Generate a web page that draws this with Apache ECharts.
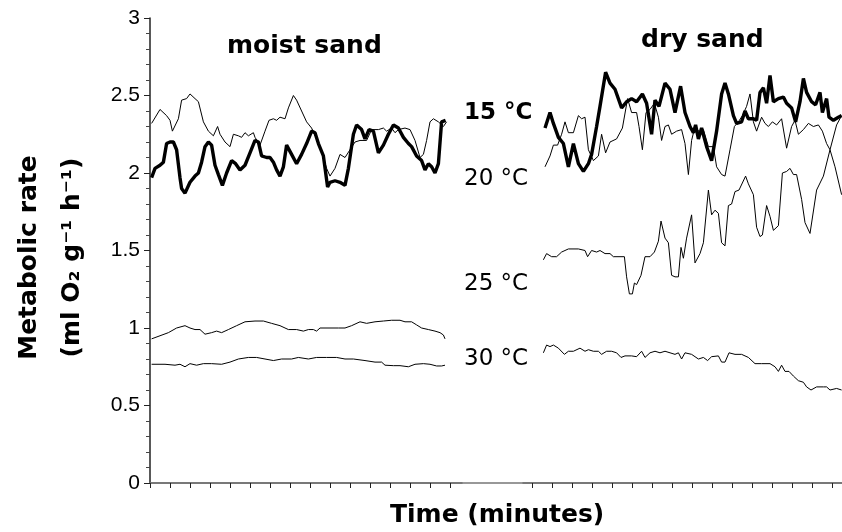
<!DOCTYPE html>
<html>
<head>
<meta charset="utf-8">
<script src="https://cdn.jsdelivr.net/npm/echarts@6/dist/echarts.min.js"></script>
<style>
  html, body { margin: 0; padding: 0; background: #fff; }
  #chart { width: 842px; height: 532px; }
</style>
</head>
<body>
<div id="chart"></div>
<script>
// time in tick units (one tick = one unit), metabolic rate in ml O2 g-1 h-1
const moist15 = [[0.08,1.97],[0.25,2.03],[0.5,2.05],[0.67,2.07],[0.83,2.19],[1.0,2.2],[1.17,2.2],[1.33,2.15],[1.5,1.97],[1.58,1.9],[1.75,1.87],[1.83,1.86],[2.0,1.94],[2.25,1.98],[2.42,2.0],[2.58,2.07],[2.75,2.17],[2.92,2.2],[3.08,2.18],[3.25,2.05],[3.42,1.99],[3.62,1.92],[3.83,2.0],[4.08,2.08],[4.28,2.06],[4.5,2.02],[4.75,2.05],[5.0,2.13],[5.25,2.21],[5.42,2.2],[5.58,2.11],[5.83,2.1],[6.0,2.1],[6.17,2.07],[6.33,2.02],[6.5,1.98],[6.67,2.04],[6.83,2.18],[7.08,2.12],[7.33,2.06],[7.58,2.12],[7.83,2.19],[8.08,2.27],[8.25,2.26],[8.42,2.19],[8.67,2.11],[8.88,1.91],[9.0,1.94],[9.25,1.95],[9.5,1.94],[9.75,1.92],[9.92,2.03],[10.17,2.25],[10.33,2.31],[10.58,2.28],[10.75,2.22],[10.95,2.28],[11.17,2.27],[11.42,2.13],[11.67,2.18],[11.92,2.25],[12.17,2.31],[12.42,2.29],[12.67,2.23],[12.92,2.19],[13.08,2.17],[13.33,2.11],[13.58,2.08],[13.75,2.02],[13.92,2.06],[14.08,2.04],[14.25,2.0],[14.42,2.06],[14.58,2.33],[14.78,2.34]];
const moist20 = [[0.08,2.32],[0.5,2.41],[0.83,2.37],[1.0,2.34],[1.12,2.27],[1.42,2.35],[1.58,2.47],[1.83,2.48],[2.0,2.51],[2.25,2.48],[2.42,2.46],[2.67,2.33],[2.92,2.27],[3.17,2.24],[3.38,2.3],[3.5,2.25],[3.75,2.2],[4.0,2.17],[4.17,2.25],[4.42,2.24],[4.58,2.23],[4.75,2.26],[4.92,2.24],[5.17,2.26],[5.25,2.23],[5.5,2.18],[5.75,2.27],[5.95,2.34],[6.17,2.35],[6.33,2.34],[6.5,2.36],[6.75,2.35],[6.92,2.42],[7.17,2.5],[7.33,2.47],[7.58,2.4],[7.83,2.33],[8.08,2.29],[8.33,2.22],[8.58,2.14],[8.83,2.03],[9.0,1.98],[9.25,2.03],[9.5,2.12],[9.75,2.1],[10.0,2.15],[10.25,2.2],[10.5,2.21],[10.83,2.21],[11.08,2.28],[11.42,2.28],[11.67,2.29],[11.83,2.27],[12.08,2.29],[12.25,2.26],[12.42,2.28],[12.75,2.29],[13.0,2.28],[13.25,2.21],[13.5,2.1],[13.67,2.12],[13.83,2.21],[14.0,2.33],[14.17,2.35],[14.42,2.33],[14.67,2.3],[14.83,2.33]];
const moist25 = [[0.08,0.93],[0.5,0.95],[0.92,0.97],[1.33,1.0],[1.75,1.015],[2.0,1.0],[2.25,0.99],[2.5,0.99],[2.75,0.96],[3.08,0.97],[3.33,0.98],[3.58,0.97],[3.92,0.99],[4.33,1.015],[4.75,1.04],[5.25,1.045],[5.67,1.045],[6.08,1.03],[6.5,1.015],[6.92,0.99],[7.33,0.99],[7.67,0.98],[7.92,0.99],[8.17,0.99],[8.33,0.98],[8.5,1.0],[9.0,1.0],[9.42,1.0],[9.75,1.0],[10.08,1.015],[10.5,1.04],[10.83,1.03],[11.25,1.04],[11.67,1.045],[12.08,1.05],[12.5,1.05],[12.75,1.04],[13.08,1.04],[13.33,1.02],[13.58,1.0],[13.92,0.99],[14.25,0.98],[14.5,0.97],[14.67,0.955],[14.75,0.93]];
const moist30 = [[0.08,0.766],[0.75,0.766],[1.25,0.76],[1.5,0.766],[1.75,0.75],[2.0,0.77],[2.33,0.76],[2.67,0.77],[3.08,0.77],[3.58,0.766],[4.0,0.78],[4.42,0.8],[4.92,0.81],[5.33,0.81],[5.75,0.8],[6.17,0.79],[6.58,0.8],[7.08,0.8],[7.42,0.81],[7.92,0.8],[8.33,0.81],[8.83,0.81],[9.33,0.81],[9.75,0.8],[10.17,0.8],[10.75,0.79],[11.25,0.78],[11.58,0.78],[11.75,0.76],[12.17,0.757],[12.5,0.757],[12.92,0.75],[13.25,0.766],[13.67,0.77],[14.0,0.766],[14.33,0.755],[14.58,0.755],[14.75,0.76]];

const dry15 = [[0.65,2.29],[0.9,2.39],[1.07,2.32],[1.32,2.23],[1.57,2.19],[1.82,2.04],[2.07,2.19],[2.32,2.06],[2.57,2.01],[2.82,2.06],[2.98,2.12],[3.23,2.3],[3.4,2.43],[3.68,2.65],[3.9,2.58],[4.15,2.54],[4.48,2.42],[4.73,2.46],[4.98,2.48],[5.23,2.46],[5.52,2.51],[5.73,2.45],[5.98,2.25],[6.15,2.47],[6.35,2.43],[6.65,2.58],[6.9,2.54],[7.15,2.39],[7.43,2.56],[7.65,2.39],[7.9,2.3],[8.07,2.26],[8.18,2.31],[8.32,2.22],[8.48,2.29],[8.73,2.17],[8.98,2.08],[9.23,2.27],[9.48,2.51],[9.65,2.58],[9.82,2.51],[10.07,2.37],[10.23,2.32],[10.48,2.33],[10.65,2.4],[10.82,2.35],[11.07,2.35],[11.23,2.34],[11.4,2.52],[11.57,2.55],[11.73,2.45],[11.9,2.63],[12.07,2.46],[12.32,2.48],[12.57,2.49],[12.73,2.45],[12.98,2.42],[13.18,2.33],[13.4,2.46],[13.57,2.61],[13.73,2.52],[13.98,2.46],[14.18,2.44],[14.4,2.52],[14.52,2.39],[14.73,2.48],[14.85,2.36],[15.07,2.34],[15.32,2.36],[15.48,2.37]];
const dry20 = [[0.65,2.04],[0.9,2.11],[1.07,2.18],[1.28,2.18],[1.48,2.25],[1.65,2.33],[1.82,2.26],[2.07,2.26],[2.32,2.37],[2.48,2.35],[2.65,2.36],[2.82,2.15],[3.07,2.08],[3.32,2.11],[3.48,2.25],[3.68,2.13],[3.9,2.2],[4.23,2.22],[4.52,2.29],[4.78,2.48],[4.98,2.39],[5.23,2.39],[5.35,2.3],[5.52,2.15],[5.7,2.39],[5.9,2.41],[6.12,2.45],[6.32,2.36],[6.48,2.21],[6.65,2.3],[6.82,2.31],[6.98,2.25],[7.23,2.27],[7.48,2.28],[7.65,2.19],[7.82,1.99],[7.98,2.21],[8.15,2.3],[8.4,2.26],[8.57,2.28],[8.82,2.17],[9.07,2.17],[9.23,2.04],[9.48,1.99],[9.65,1.98],[9.9,2.15],[10.12,2.3],[10.32,2.33],[10.52,2.37],[10.73,2.43],[10.9,2.51],[11.07,2.33],[11.23,2.27],[11.48,2.36],[11.65,2.32],[11.82,2.3],[12.02,2.33],[12.23,2.31],[12.48,2.35],[12.73,2.16],[12.98,2.3],[13.15,2.34],[13.32,2.25],[13.57,2.28],[13.82,2.32],[14.07,2.3],[14.32,2.31],[14.52,2.27],[14.73,2.19],[14.9,2.15],[15.15,2.04],[15.48,1.86]];
const dry25 = [[0.57,1.44],[0.73,1.48],[0.98,1.46],[1.23,1.46],[1.48,1.49],[1.82,1.51],[2.32,1.51],[2.65,1.5],[2.78,1.46],[2.98,1.5],[3.23,1.49],[3.4,1.5],[3.65,1.48],[3.9,1.48],[4.07,1.46],[4.4,1.46],[4.62,1.46],[4.73,1.33],[4.87,1.22],[5.02,1.22],[5.12,1.29],[5.23,1.28],[5.45,1.34],[5.65,1.46],[5.9,1.46],[6.12,1.49],[6.32,1.56],[6.45,1.69],[6.65,1.58],[6.82,1.55],[6.98,1.34],[7.15,1.33],[7.32,1.33],[7.45,1.52],[7.57,1.45],[7.73,1.58],[7.98,1.73],[8.15,1.42],[8.4,1.48],[8.57,1.55],[8.82,1.89],[8.98,1.73],[9.15,1.76],[9.32,1.74],[9.48,1.55],[9.65,1.53],[9.82,1.79],[9.98,1.8],[10.15,1.88],[10.35,1.89],[10.68,1.98],[10.82,1.93],[11.07,1.86],[11.23,1.65],[11.4,1.59],[11.52,1.6],[11.73,1.79],[11.9,1.72],[12.07,1.63],[12.32,1.66],[12.52,2.0],[12.73,2.01],[12.9,2.03],[13.07,1.99],[13.23,1.99],[13.48,1.83],[13.65,1.68],[13.9,1.61],[14.23,1.89],[14.57,1.98],[14.9,2.15],[15.23,2.31],[15.48,2.37]];
const dry30 = [[0.57,0.84],[0.73,0.89],[0.9,0.88],[1.07,0.89],[1.32,0.87],[1.62,0.83],[1.82,0.85],[2.07,0.85],[2.4,0.87],[2.65,0.85],[2.82,0.86],[3.07,0.85],[3.32,0.85],[3.48,0.83],[3.73,0.85],[3.98,0.85],[4.23,0.84],[4.45,0.81],[4.65,0.82],[4.98,0.82],[5.23,0.815],[5.48,0.85],[5.65,0.81],[5.9,0.84],[6.15,0.85],[6.4,0.84],[6.65,0.85],[6.9,0.84],[7.15,0.83],[7.32,0.84],[7.48,0.8],[7.65,0.84],[7.98,0.83],[8.32,0.8],[8.57,0.81],[8.78,0.79],[8.98,0.815],[9.32,0.82],[9.48,0.78],[9.65,0.78],[9.85,0.84],[10.15,0.83],[10.48,0.83],[10.82,0.81],[11.15,0.77],[11.48,0.77],[11.9,0.77],[12.15,0.75],[12.32,0.72],[12.48,0.76],[12.65,0.72],[12.85,0.72],[13.07,0.69],[13.32,0.66],[13.57,0.65],[13.73,0.62],[13.95,0.6],[14.23,0.62],[14.57,0.62],[14.73,0.62],[14.9,0.6],[15.23,0.61],[15.48,0.6]];

const xTicks = [0, 1, 2, 3, 4, 5, 6, 7, 8, 9, 10, 11, 12, 13, 14, 15];
const panelTitles = ["moist sand", "dry sand"];
const tempLabels = ["15 °C", "20 °C", "25 °C", "30 °C"];

const chart = echarts.init(document.getElementById("chart"), null, { renderer: "canvas" });

const bold = "DejaVu Sans";
const plain = "Liberation Sans";

function xAxisFor(gridIndex, min, max) {
  return {
    type: "value",
    gridIndex: gridIndex,
    min: min,
    max: max,
    position: "bottom",
    axisLine: { show: true, onZero: false, lineStyle: { color: "#555", width: 1.5 } },
    axisTick: { show: true, length: 5, customValues: xTicks, lineStyle: { color: "#222", width: 1 } },
    axisLabel: { show: false },
    splitLine: { show: false },
  };
}

function lineSeries(data, xi, thick) {
  return {
    type: "line",
    xAxisIndex: xi,
    yAxisIndex: xi,
    data: data,
    showSymbol: false,
    symbol: "none",
    silent: true,
    animation: false,
    lineStyle: { color: "#000", width: thick ? 3.4 : 1 },
  };
}

const option = {
  animation: false,
  grid: [
    { left: 150, right: 380, top: 18, bottom: 49 },
    { left: 523, right: 0, top: 18, bottom: 49 },
    { left: 150, right: 0, top: 18, bottom: 49 },
  ],
  xAxis: [
    xAxisFor(0, 0, 15.6),
    xAxisFor(1, -0.45, 15.5),
    {
      type: "value",
      gridIndex: 2,
      position: "top",
      min: 0,
      max: 1,
      axisLine: { show: true, lineStyle: { color: "#777", width: 1.5 } },
      axisTick: { show: false },
      axisLabel: { show: false },
      splitLine: { show: false },
    },
  ],
  yAxis: [
    {
      type: "value",
      gridIndex: 0,
      min: 0,
      max: 3,
      interval: 0.5,
      axisLine: { show: true, lineStyle: { color: "#222", width: 1.5 } },
      axisTick: { show: true, length: 6, lineStyle: { color: "#222" } },
      minorTick: { show: true, splitNumber: 5, length: 4, lineStyle: { color: "#444" } },
      axisLabel: {
        margin: 10,
        color: "#000",
        fontFamily: plain,
        fontSize: 21,
        formatter: (v) => String(v),
      },
      splitLine: { show: false },
      name: "Metabolic rate\n(ml O\u2082 g\u207B\u00B9 h\u207B\u00B9)",
      nameLocation: "middle",
      nameRotate: 90,
      nameGap: 56,
      nameTextStyle: {
        padding: [0, 14, 0, 0],
        fontFamily: bold,
        fontWeight: "bold",
        fontSize: 25,
        lineHeight: 43,
        color: "#000",
      },
    },
    { type: "value", gridIndex: 1, min: 0, max: 3, show: false },
    { type: "value", gridIndex: 2, min: 0, max: 3, show: false },
  ],
  series: [
    lineSeries(moist30, 0, false),
    lineSeries(moist25, 0, false),
    lineSeries(moist20, 0, false),
    lineSeries(moist15, 0, true),
    lineSeries(dry30, 1, false),
    lineSeries(dry25, 1, false),
    lineSeries(dry20, 1, false),
    lineSeries(dry15, 1, true),
  ],
  graphic: [
    { type: "text", left: 227, top: 34, style: { text: panelTitles[0], font: "bold 25px '" + bold + "'", fill: "#000" } },
    { type: "text", left: 641, top: 28, style: { text: panelTitles[1], font: "bold 25px '" + bold + "'", fill: "#000" } },
    { type: "text", left: 464, top: 102, style: { text: tempLabels[0], font: "bold 23px '" + bold + "'", fill: "#000" } },
    { type: "text", left: 464, top: 168, style: { text: tempLabels[1], font: "23px '" + bold + "'", fill: "#000" } },
    { type: "text", left: 464, top: 273, style: { text: tempLabels[2], font: "23px '" + bold + "'", fill: "#000" } },
    { type: "text", left: 464, top: 348, style: { text: tempLabels[3], font: "23px '" + bold + "'", fill: "#000" } },
    { type: "text", left: 390, top: 503, style: { text: "Time (minutes)", font: "bold 25px '" + bold + "'", fill: "#000" } },
  ],
};

chart.setOption(option);
</script>
</body>
</html>
